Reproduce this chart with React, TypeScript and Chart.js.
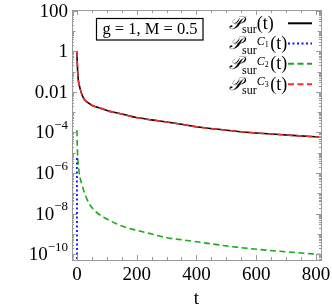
import { useEffect, useRef } from 'react';
import { Chart, registerables } from 'chart.js';
Chart.register(...registerables);

// ---- data ----
const tTotal = [0, 1, 2, 3, 4, 5, 7, 9, 11, 15, 22, 30, 39, 50, 60, 83, 110, 139, 170, 195, 250, 306, 360, 412, 480, 579, 650, 720, 815];
const pTotal = [1, 0.32, 0.14, 0.079, 0.05, 0.035, 0.024, 0.018, 0.014, 0.0089, 0.005, 0.0035, 0.0028, 0.0022, 0.0019, 0.0015, 0.0011, 8.9e-4, 6.9e-4, 5.6e-4, 4.2e-4, 3.2e-4, 2.4e-4, 1.8e-4, 1.4e-4, 1.0e-4, 8.5e-5, 7.2e-5, 6.0e-5];
const tC1 = [0, 0.4];
const pC1 = [5.5e-6, 1e-13];
const tC2 = [0, 1, 2, 3, 5, 7, 10, 17, 25, 39, 50, 61, 83, 105, 128, 160, 195, 250, 300, 360, 412, 470, 523, 580, 635, 720, 815];
const pC2 = [1.3e-4, 2.5e-5, 1.0e-5, 5.0e-6, 2.2e-6, 1.2e-6, 6.3e-7, 2.6e-7, 1.1e-7, 3.5e-8, 2.0e-8, 1.35e-8, 7.6e-9, 5.0e-9, 3.4e-9, 2.2e-9, 1.6e-9, 1.0e-9, 6.6e-10, 5.0e-10, 3.9e-10, 3.0e-10, 2.35e-10, 1.9e-10, 1.6e-10, 1.26e-10, 9.8e-11];
const tC3 = [0, 1, 2, 3, 4, 5, 7, 9, 11, 15, 22, 30, 39, 50, 60, 83, 110, 139, 170, 195, 250, 306, 360, 412, 480, 579, 650, 720, 815];
const pC3 = [1, 0.32, 0.14, 0.079, 0.05, 0.035, 0.024, 0.018, 0.014, 0.0089, 0.005, 0.0035, 0.0028, 0.0022, 0.0019, 0.0015, 0.0011, 8.9e-4, 6.9e-4, 5.6e-4, 4.2e-4, 3.2e-4, 2.4e-4, 1.8e-4, 1.4e-4, 1.0e-4, 8.5e-5, 7.2e-5, 6.0e-5];

const xTickValues = [0, 200, 400, 600, 800];
const xTickLabels = ['0', '200', '400', '600', '800'];
const yTickValues = [100, 1, 0.01, 1e-4, 1e-6, 1e-8, 1e-10];
const yTickBases = ['100', '1', '0.01', '10', '10', '10', '10'];
const yTickSups = ['', '', '', '\u22124', '\u22126', '\u22128', '\u221210'];
const legendSups = ['', '1', '2', '3'];
const paramLabel = 'g = 1, M = 0.5';
const xTitle = 't';

const COLORS = ['#000000', '#1010ff', '#1aaa1a', '#ff2a2a'];
const DASHES: number[][] = [[], [2, 2.5], [6, 3.5], [6, 3.5]];
const SERIF = '"Liberation Serif", "Times New Roman", serif';

const pts = (t: number[], p: number[]) => t.map((x, i) => ({ x, y: p[i] }));

const framePlugin = {
  id: 'frame',
  afterDraw(chart: any) {
    const ctx = chart.ctx as CanvasRenderingContext2D;
    const { left, right, top, bottom } = chart.chartArea;
    const xs = chart.scales.x;
    const ys = chart.scales.y;
    ctx.save();
    // frame
    ctx.strokeStyle = '#9a9a9a';
    ctx.lineWidth = 1;
    ctx.strokeRect(Math.round(left) + 0.5, Math.round(top) + 0.5, Math.round(right - left), Math.round(bottom - top));
    // x ticks
    ctx.beginPath();
    for (let v = 0; v <= 800; v += 50) {
      const px = Math.round(xs.getPixelForValue(v)) + 0.5;
      const len = v % 200 === 0 ? 5 : 3;
      ctx.moveTo(px, bottom); ctx.lineTo(px, bottom - len);
      ctx.moveTo(px, top); ctx.lineTo(px, top + len);
    }
    // y ticks
    for (let e = -11; e <= 2; e++) {
      for (let m = 1; m <= 9; m++) {
        const v = m * Math.pow(10, e);
        if (v < ys.min || v > ys.max) continue;
        const py = Math.round(ys.getPixelForValue(v)) + 0.5;
        let len = 2;
        if (m === 1) len = e % 2 === 0 ? 5 : 3.5;
        ctx.moveTo(left, py); ctx.lineTo(left + len, py);
        ctx.moveTo(right, py); ctx.lineTo(right - len, py);
      }
    }
    ctx.stroke();

    // x tick labels
    ctx.fillStyle = '#000';
    ctx.font = `19px ${SERIF}`;
    ctx.textAlign = 'center';
    ctx.textBaseline = 'alphabetic';
    xTickValues.forEach((v, i) => {
      ctx.fillText(xTickLabels[i], xs.getPixelForValue(v), 280);
    });
    ctx.fillText(xTitle, (left + right) / 2, 304);

    // y tick labels
    const labelRight = left - 4;
    yTickValues.forEach((v, i) => {
      const py = ys.getPixelForValue(v);
      const sup = yTickSups[i];
      ctx.textAlign = 'right';
      ctx.textBaseline = 'middle';
      if (!sup) {
        ctx.font = `19px ${SERIF}`;
        ctx.fillText(yTickBases[i], labelRight, py + 1);
      } else {
        ctx.font = `13px ${SERIF}`;
        const sw = ctx.measureText(sup).width;
        ctx.fillText(sup, labelRight, py - 7);
        ctx.font = `19px ${SERIF}`;
        ctx.fillText(yTickBases[i], labelRight - sw, py + 1);
      }
    });

    // parameter box
    ctx.font = `16.5px ${SERIF}`;
    ctx.textAlign = 'center';
    ctx.textBaseline = 'middle';
    ctx.fillText(paramLabel, 150, 29.5);
    ctx.strokeStyle = '#000';
    ctx.lineWidth = 1.2;
    ctx.strokeRect(96.5, 18.5, 106.5, 21.5);

    // legend
    const rowY = [23.3, 43.5, 63.8, 84.2];
    legendSups.forEach((sup, i) => {
      const base = rowY[i] + 5.5;
      let x = 229;
      ctx.textAlign = 'left';
      ctx.textBaseline = 'alphabetic';
      ctx.fillStyle = '#000';
      ctx.font = `italic 18px ${SERIF}`;
      ctx.fillText('\u{1D4AB}', x, base);
      x += ctx.measureText('\u{1D4AB}').width;
      ctx.font = `12px ${SERIF}`;
      ctx.fillText('sur', x, base + 4.5);
      let xs2 = x + ctx.measureText('sur').width;
      if (sup) {
        ctx.font = `italic 12px ${SERIF}`;
        ctx.fillText('C', xs2, base - 4.5);
        xs2 += ctx.measureText('C').width;
        ctx.font = `8px ${SERIF}`;
        ctx.fillText(sup, xs2, base - 2.5);
        xs2 += ctx.measureText(sup).width + 1.5;
      }
      ctx.font = `18px ${SERIF}`;
      ctx.fillText('(t)', xs2, base);
      // sample
      ctx.beginPath();
      ctx.strokeStyle = COLORS[i];
      ctx.lineWidth = 2;
      ctx.setLineDash(DASHES[i]);
      ctx.moveTo(288, rowY[i]);
      ctx.lineTo(312, rowY[i]);
      ctx.stroke();
      ctx.setLineDash([]);
    });
    ctx.restore();
  },
};

export default function App() {
  const ref = useRef<HTMLCanvasElement | null>(null);
  useEffect(() => {
    if (!ref.current) return;
    const chart = new Chart(ref.current, {
      type: 'line',
      data: {
        datasets: [
          { label: 'total', data: pts(tTotal, pTotal), borderColor: COLORS[0], borderWidth: 1.6, borderDash: DASHES[0], pointRadius: 0, order: 3, cubicInterpolationMode: 'monotone' },
          { label: 'C1', data: pts(tC1, pC1), borderColor: COLORS[1], borderWidth: 1.8, borderDash: DASHES[1], pointRadius: 0, order: 1 },
          { label: 'C2', data: pts(tC2, pC2), borderColor: COLORS[2], borderWidth: 1.6, borderDash: DASHES[2], pointRadius: 0, order: 2, cubicInterpolationMode: 'monotone' },
          { label: 'C3', data: pts(tC3, pC3), borderColor: COLORS[3], borderWidth: 1.6, borderDash: DASHES[3], pointRadius: 0, order: 0, cubicInterpolationMode: 'monotone' },
        ],
      },
      options: {
        animation: false,
        responsive: false,
        maintainAspectRatio: false,
        layout: { padding: { left: 72, top: 10, right: 11, bottom: 48 } },
        plugins: { legend: { display: false }, tooltip: { enabled: false } },
        scales: {
          x: { type: 'linear', min: -16.5, max: 817, display: false },
          y: { type: 'logarithmic', min: 5.25e-11, max: 108, display: false },
        },
      },
      plugins: [framePlugin],
    } as any);
    return () => chart.destroy();
  }, []);
  return (
    <div style={{ position: 'fixed', left: 0, top: 0, width: 332, height: 308, background: '#fff' }}>
      <canvas ref={ref} width={332} height={308} style={{ width: 332, height: 308, display: 'block' }} />
    </div>
  );
}
